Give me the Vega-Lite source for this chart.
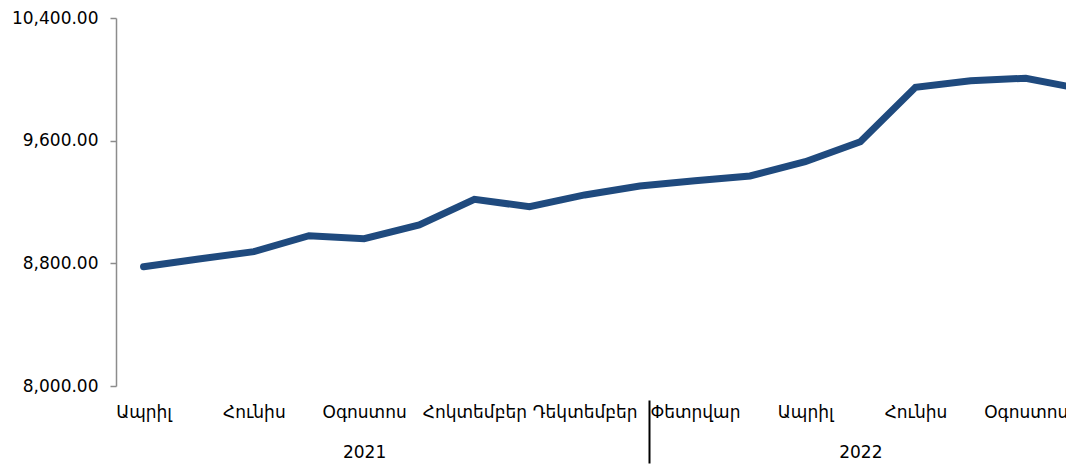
{
  "$schema": "https://vega.github.io/schema/vega-lite/v6.json",
  "autosize": {"type": "none"},
  "width": 950,
  "height": 368,
  "padding": {"left": 116, "top": 18, "right": 0, "bottom": 80},
  "background": "white",
  "config": {
    "view": {"stroke": null},
    "font": "DejaVu Sans",
    "axis": {"labelFont": "DejaVu Sans", "labelColor": "#000000", "labelFontSize": 17, "grid": false, "title": null}
  },
  "data": {
    "values": [
      {"i": 0, "month": "Ապրիլ", "year": "2021", "value": 8778},
      {"i": 1, "month": "Մայիս", "year": "2021", "value": 8828},
      {"i": 2, "month": "Հունիս", "year": "2021", "value": 8876},
      {"i": 3, "month": "Հուլիս", "year": "2021", "value": 8980},
      {"i": 4, "month": "Օգոստոս", "year": "2021", "value": 8961},
      {"i": 5, "month": "Սեպտեմբեր", "year": "2021", "value": 9050},
      {"i": 6, "month": "Հոկտեմբեր", "year": "2021", "value": 9218},
      {"i": 7, "month": "Նոյեմբեր", "year": "2021", "value": 9169},
      {"i": 8, "month": "Դեկտեմբեր", "year": "2021", "value": 9246},
      {"i": 9, "month": "Հունվար", "year": "2022", "value": 9304},
      {"i": 10, "month": "Փետրվար", "year": "2022", "value": 9339},
      {"i": 11, "month": "Մարտ", "year": "2022", "value": 9370},
      {"i": 12, "month": "Ապրիլ", "year": "2022", "value": 9463},
      {"i": 13, "month": "Մայիս", "year": "2022", "value": 9593},
      {"i": 14, "month": "Հունիս", "year": "2022", "value": 9948},
      {"i": 15, "month": "Հուլիս", "year": "2022", "value": 9991},
      {"i": 16, "month": "Օգոստոս", "year": "2022", "value": 10007},
      {"i": 17, "month": "Սեպտեմբեր", "year": "2022", "value": 9938}
    ]
  },
  "resolve": {"axis": {"x": "independent"}},
  "layer": [
    {
      "mark": {"type": "line", "color": "#1F4A7E", "strokeWidth": 7, "strokeCap": "round", "strokeJoin": "miter", "clip": true},
      "encoding": {
        "x": {
          "field": "i", "type": "quantitative",
          "scale": {"domain": [-0.5, 16.73], "nice": false, "zero": false},
          "axis": {
            "orient": "bottom",
            "values": [0, 2, 4, 6, 8, 10, 12, 14, 16],
            "labelExpr": "['Ապրիլ','Մայիս','Հունիս','Հուլիս','Օգոստոս','Սեպտեմբեր','Հոկտեմբեր','Նոյեմբեր','Դեկտեմբեր','Հունվար','Փետրվար','Մարտ','Ապրիլ','Մայիս','Հունիս','Հուլիս','Օգոստոս','Սեպտեմբեր'][datum.value]",
            "ticks": false, "domain": false, "labelPadding": 26, "labelOverlap": false, "labelFlush": false, "labelBaseline": "middle"
          }
        },
        "y": {
          "field": "value", "type": "quantitative",
          "scale": {"domain": [8000, 10400], "nice": false, "zero": false},
          "axis": {
            "values": [8000, 8800, 9600, 10400],
            "format": ",.2f",
            "domainColor": "#8c8c8c", "domainWidth": 1.5,
            "tickColor": "#8c8c8c", "tickWidth": 1.5, "tickSize": 6,
            "labelPadding": 12, "labelBaseline": "middle"
          }
        }
      }
    },
    {
      "mark": {"type": "point", "opacity": 0, "clip": true},
      "encoding": {
        "x": {
          "field": "i", "type": "quantitative",
          "axis": {
            "orient": "bottom",
            "values": [4, 13],
            "labelExpr": "datum.value == 4 ? '2021' : '2022'",
            "ticks": false, "domain": false, "labelPadding": 66, "labelOverlap": false, "labelFlush": false, "labelBaseline": "middle"
          }
        },
        "y": {"field": "value", "type": "quantitative"}
      }
    },
    {
      "mark": {"type": "point", "opacity": 0, "clip": true},
      "encoding": {
        "x": {
          "field": "i", "type": "quantitative",
          "axis": {
            "orient": "bottom",
            "values": [9.165],
            "labels": false, "domain": false,
            "tickColor": "#000000", "tickWidth": 2, "tickSize": 63, "offset": 14
          }
        },
        "y": {"field": "value", "type": "quantitative"}
      }
    }
  ]
}
